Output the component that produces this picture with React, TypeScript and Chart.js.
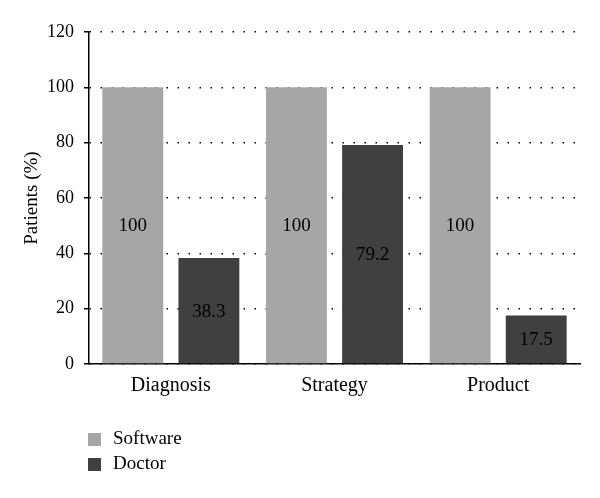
import React, { useEffect, useRef } from "react";
import { Chart, registerables } from "chart.js";

Chart.register(...registerables);

const categories = ["Diagnosis", "Strategy", "Product"];
const softwareValues = [100, 100, 100];
const doctorValues = [38.3, 79.2, 17.5];
const seriesNames = ["Software", "Doctor"];
const seriesColors = ["#a6a6a6", "#404040"];
const yTicks = [0, 20, 40, 60, 80, 100, 120];

const FONT = "'Liberation Serif', 'DejaVu Serif', serif";

const valueLabels = {
  id: "valueLabels",
  afterDatasetsDraw(chart: any) {
    const ctx = chart.ctx;
    ctx.save();
    ctx.font = `19px ${FONT}`;
    ctx.fillStyle = "#000";
    ctx.textAlign = "center";
    ctx.textBaseline = "middle";
    chart.data.datasets.forEach((ds: any, i: number) => {
      const meta = chart.getDatasetMeta(i);
      meta.data.forEach((bar: any, j: number) => {
        const v = ds.data[j];
        const y = (bar.y + bar.base) / 2 + 1;
        ctx.fillText(String(v), bar.x, y);
      });
    });
    ctx.restore();
  },
};

const customLegend = {
  id: "customLegend",
  afterDraw(chart: any) {
    const ctx = chart.ctx;
    ctx.save();
    ctx.font = `19px ${FONT}`;
    ctx.textAlign = "left";
    ctx.textBaseline = "middle";
    chart.data.datasets.forEach((ds: any, i: number) => {
      const cy = 439 + i * 25;
      ctx.fillStyle = ds.backgroundColor;
      ctx.fillRect(88, cy - 6, 13, 13);
      ctx.fillStyle = "#000";
      ctx.fillText(ds.label, 113, cy);
    });
    ctx.restore();
  },
};

export default function App() {
  const ref = useRef<HTMLCanvasElement | null>(null);
  useEffect(() => {
    if (!ref.current) return;
    const chart = new Chart(ref.current, {
      type: "bar",
      data: {
        labels: categories,
        datasets: [
          {
            label: seriesNames[0],
            data: softwareValues,
            backgroundColor: seriesColors[0],
            categoryPercentage: 0.93,
            barPercentage: 0.8,
          },
          {
            label: seriesNames[1],
            data: doctorValues,
            backgroundColor: seriesColors[1],
            categoryPercentage: 0.93,
            barPercentage: 0.8,
          },
        ],
      },
      options: {
        animation: false,
        responsive: false,
        maintainAspectRatio: false,
        layout: { padding: { top: 32, right: 20, left: 0, bottom: 0 } },
        plugins: {
          legend: { display: false },
          tooltip: { enabled: false },
        },
        scales: {
          x: {
            grid: { display: false },
            border: { display: true, color: "#000", width: 1.5 },
            ticks: {
              color: "#000",
              font: { family: FONT, size: 20 },
              padding: 2,
            },
            afterFit(scale: any) {
              scale.height = 134;
            },
          },
          y: {
            min: 0,
            max: 120,
            afterBuildTicks(scale: any) {
              scale.ticks = yTicks.map((v) => ({ value: v }));
            },
            grid: {
              color: "#000",
              lineWidth: 1.5,
              drawTicks: true,
              tickLength: 5,
              tickColor: "#000",
              tickWidth: 1.5,
              tickBorderDash: [],
            },
            border: { display: true, color: "#000", width: 1.5, dash: [1.5, 9.5] },
            ticks: {
              color: "#000",
              font: { family: FONT, size: 18 },
              padding: 10,
            },
            title: {
              display: true,
              text: "Patients (%)",
              color: "#000",
              font: { family: FONT, size: 19 },
              padding: { top: 21, bottom: 0 },
            },
            afterFit(scale: any) {
              scale.width = 89;
            },
          },
        },
      },
      plugins: [valueLabels, customLegend],
    } as any);
    return () => chart.destroy();
  }, []);
  return (
    <div style={{ position: "fixed", left: 0, top: 0, width: 600, height: 498, background: "#fff" }}>
      <canvas ref={ref} width={600} height={498} style={{ width: 600, height: 498 }} />
    </div>
  );
}
